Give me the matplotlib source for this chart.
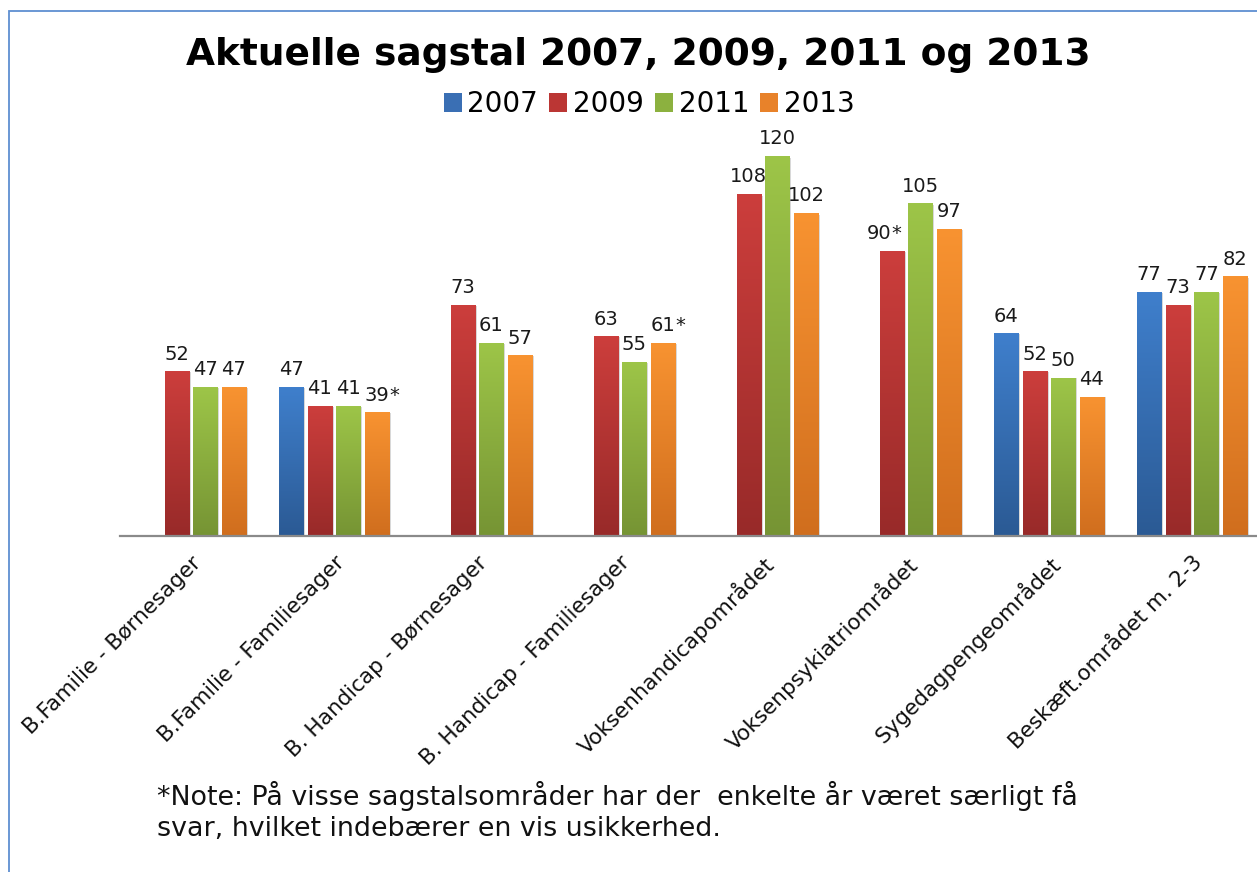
import numpy as np
import matplotlib
matplotlib.use("Agg")
import matplotlib.pyplot as plt
from matplotlib.patches import Rectangle, Patch
from matplotlib.colors import to_rgb

categories = ["B.Familie - Børnesager", "B.Familie - Familiesager",
              "B. Handicap - Børnesager", "B. Handicap - Familiesager",
              "Voksenhandicapområdet", "Voksenpsykiatriområdet",
              "Sygedagpengeområdet", "Beskæft.området m. 2-3"]
series_names = ["2007", "2009", "2011", "2013"]
v2007 = [np.nan, 47, np.nan, np.nan, np.nan, np.nan, 64, 77]
v2009 = [52, 41, 73, 63, 108, 90, 52, 73]
v2011 = [47, 41, 61, 55, 120, 105, 50, 77]
v2013 = [47, 39, 57, 61, 102, 97, 44, 82]
lab2007 = ["", "47", "", "", "", "", "64", "77"]
lab2009 = ["52", "41", "73", "63", "108", "90*", "52", "73"]
lab2011 = ["47", "41", "61", "55", "120", "105", "50", "77"]
lab2013 = ["47", "39*", "57", "61*", "102", "97", "44", "82"]
title = "Aktuelle sagstal 2007, 2009, 2011 og 2013"
note = ("*Note: På visse sagstalsområder har der  enkelte år været særligt få\n"
        "svar, hvilket indebærer en vis usikkerhed.")

values = [v2007, v2009, v2011, v2013]
labels = [lab2007, lab2009, lab2011, lab2013]
top_cols = ["#3F7FCC", "#CC3E3C", "#9DC548", "#F89331"]
bot_cols = ["#2B5A94", "#982A29", "#769434", "#D06E1E"]
mid_cols = ["#3A6FB4", "#BB3634", "#8CB13F", "#E8822A"]

W, H = 1257, 872
fig = plt.figure(figsize=(W / 100, H / 100), dpi=100)
fig.patch.set_facecolor("white")

# outer frame
fig.patches.append(Rectangle((9 / W, -0.2), 1.5, (H - 11) / H + 0.2,
                             transform=fig.transFigure, fill=False,
                             edgecolor="#5E8FD1", linewidth=1.3))

ax = fig.add_axes([119.5 / W, (H - 536) / H, 1144 / W, 411.7 / H])
ax.set_facecolor("none")
x = np.arange(len(categories))
bw = 0.17
offsets = [-0.3, -0.1, 0.1, 0.3]

for si in range(4):
    vals = np.array(values[si], dtype=float)
    bars = ax.bar(x + offsets[si], np.nan_to_num(vals), width=bw,
                  color="none", edgecolor="none", zorder=2)
    c0 = np.array(to_rgb(bot_cols[si]))
    c1 = np.array(to_rgb(top_cols[si]))
    t = np.linspace(0, 1, 128)[:, None]
    grad = (c0 * (1 - t) + c1 * t)[:, None, :]
    for ci, b in enumerate(bars):
        if np.isnan(vals[ci]):
            continue
        x0 = b.get_x()
        x1 = x0 + b.get_width()
        h = b.get_height()
        # soft shadow
        ax.add_patch(Rectangle((x1, 0), 0.012, h * 0.995, facecolor="#d8d8d8",
                               edgecolor="none", zorder=1))
        im = ax.imshow(grad, extent=(x0, x1, 0, h), origin="lower",
                       aspect="auto", zorder=2, interpolation="bilinear")
        im.set_clip_path(b)
        lab = labels[si][ci]
        num = lab.rstrip("*")
        dx = 0
        if (si, ci) == (1, 5):
            dx = -9
        txt = ax.annotate(num, xy=(b.get_x() + b.get_width() / 2, h),
                          xytext=(dx, 8.5), textcoords="offset points",
                          ha="center", va="baseline", fontsize=14,
                          color="#1a1a1a", zorder=4)
        if lab.endswith("*"):
            ax.annotate("*", xy=(1, 0), xycoords=txt, ha="left", va="bottom",
                        fontsize=14, color="#1a1a1a", zorder=4)

ax.set_xlim(-0.5, len(categories) - 0.5)
ax.set_ylim(0, 130)
for s in ["top", "right", "left"]:
    ax.spines[s].set_visible(False)
ax.spines["bottom"].set_color("#8a8a8a")
ax.spines["bottom"].set_linewidth(1.6)
ax.spines["bottom"].set_zorder(3)
ax.set_yticks([])
ax.set_xticks(x)
ax.set_xticklabels(categories, rotation=45, ha="right", va="top",
                   rotation_mode="anchor", fontsize=15.5, color="#111111")
ax.tick_params(axis="x", length=0, pad=12)

fig.text(0.5075, 1 - 55 / H, title, ha="center", va="center",
         fontsize=27, fontweight="bold", color="black")

handles = [Patch(facecolor=mid_cols[i], edgecolor="none") for i in range(4)]
fig.legend(handles, series_names, loc="center", ncol=4,
           bbox_to_anchor=(0.5165, 1 - 104 / H), frameon=False,
           fontsize=20, handlelength=0.65, handleheight=0.65,
           handletextpad=0.2, columnspacing=0.4, borderaxespad=0)

fig.text(157 / W, 1 - 781 / H, note, ha="left", va="top",
         fontsize=19.4, color="#111111", linespacing=1.25)

fig.savefig("out.png", dpi=100, facecolor="white")
